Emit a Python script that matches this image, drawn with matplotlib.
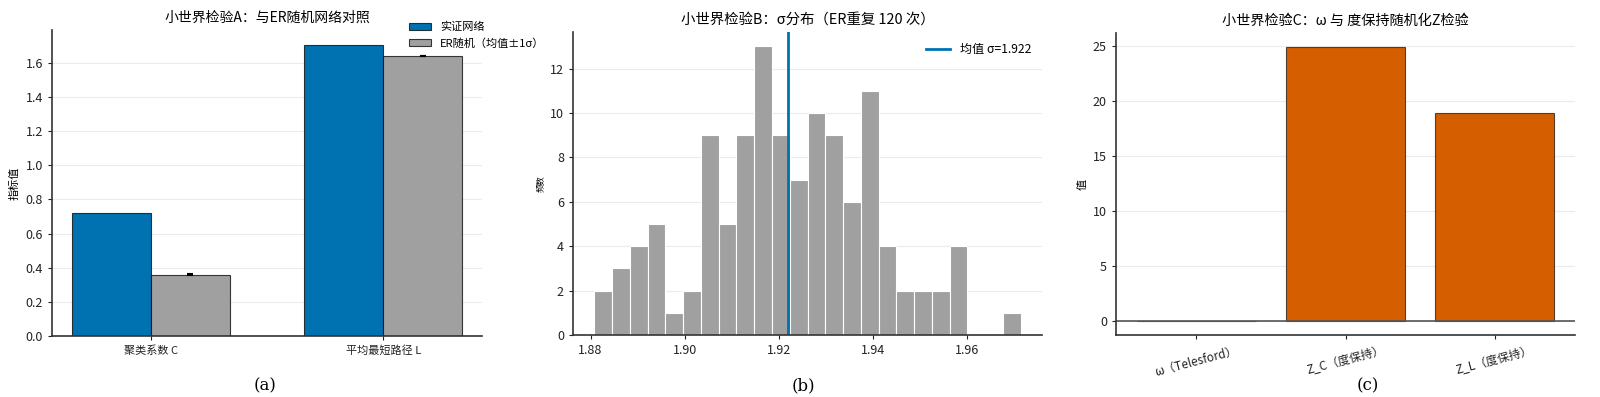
import numpy as np
import matplotlib
matplotlib.use("Agg")
import matplotlib.pyplot as plt

plt.rcParams['font.family'] = ['Noto Sans CJK SC', 'DejaVu Sans']
plt.rcParams['axes.unicode_minus'] = False

# ---- Panel A data ----
metrics_a = ["聚类系数 C", "平均最短路径 L"]
empirical_vals = [0.718, 1.706]
er_mean_vals = [0.360, 1.638]
er_std_vals = [0.0025, 0.0008]

# ---- Panel B data ----
sigma_counts = [2, 3, 4, 5, 1, 2, 9, 5, 9, 13, 9, 7, 10, 9, 6, 11, 4, 2, 2, 2, 4, 0, 0, 1]
sigma_lo = 1.8808
sigma_hi = 1.9713
sigma_mean = 1.922

# ---- Panel C data ----
metrics_c = ["ω（Telesford）", "Z_C（度保持）", "Z_L（度保持）"]
values_c = [-0.04, 24.95, 18.9]

BLUE = "#0072B2"
GRAY = "#a0a0a0"
ORANGE = "#D55E00"
SPINE = "#333333"

W, H = 1600, 397
fig = plt.figure(figsize=(16, 3.97), dpi=100)

def rect(l, r, t, b):
    return [l / W, (H - b) / H, (r - l) / W, (b - t) / H]

axA = fig.add_axes(rect(52, 482, 30, 336))
axB = fig.add_axes(rect(573, 1042, 32, 335))
axC = fig.add_axes(rect(1116, 1575, 33, 335))

def style(ax):
    ax.spines['top'].set_visible(False)
    ax.spines['right'].set_visible(False)
    for s in ('left', 'bottom'):
        ax.spines[s].set_color(SPINE)
        ax.spines[s].set_linewidth(1.2)
    ax.grid(axis='y', color='#ececec', linewidth=0.8)
    ax.set_axisbelow(True)
    ax.tick_params(labelsize=9, colors='#222222', length=3)

# Panel A
x = np.arange(len(metrics_a))
bw = 0.34
axA.bar(x - bw / 2, empirical_vals, bw, color=BLUE, edgecolor=(0, 0, 0, 0.75),
        linewidth=0.8, label="实证网络")
axA.bar(x + bw / 2, er_mean_vals, bw, color=GRAY, edgecolor=(0, 0, 0, 0.75),
        linewidth=0.8, yerr=er_std_vals, capsize=2.5,
        error_kw=dict(elinewidth=1, ecolor='black', capthick=1.5),
        label="ER随机（均值±1σ）")
style(axA)
axA.set_xticks(x)
axA.set_xticklabels(metrics_a, fontsize=8)
axA.set_ylabel("指标值", fontsize=8)
axA.set_title("小世界检验A：与ER随机网络对照", fontsize=10)
axA.legend(loc='upper right', bbox_to_anchor=(1.16, 1.048), frameon=False,
           fontsize=8, handlelength=2.0, borderaxespad=0.2)

# Panel B
edges = np.linspace(sigma_lo, sigma_hi, len(sigma_counts) + 1)
axB.bar(edges[:-1], sigma_counts, width=np.diff(edges), align='edge',
        color=GRAY, edgecolor='white', linewidth=0.8)
axB.axvline(sigma_mean, color=BLUE, linewidth=2, label=f"均值 σ={sigma_mean:.3f}")
style(axB)
axB.set_ylabel("频数", fontsize=6)
axB.set_title("小世界检验B：σ分布（ER重复 120 次）", fontsize=10.4)
axB.set_xticks([1.88, 1.90, 1.92, 1.94, 1.96])
axB.legend(loc='upper right', frameon=False, fontsize=8.7)

# Panel C
xc = np.arange(len(metrics_c))
axC.bar(xc, values_c, 0.8, color=ORANGE, edgecolor=(0, 0, 0, 0.65), linewidth=0.8)
axC.axhline(0, color='#555555', linewidth=1.2)
style(axC)
axC.set_xticks(xc)
axC.set_xticklabels(metrics_c, rotation=15, fontsize=8.5)
axC.set_ylabel("值", fontsize=8)
axC.set_title("小世界检验C：ω 与 度保持随机化Z检验", fontsize=10.2)

# Captions
for xp, lab in [(265, "(a)"), (803, "(b)"), (1368, "(c)")]:
    fig.text(xp / W, (H - 386) / H, lab, ha='center', va='center',
             fontsize=12, family='DejaVu Serif')

fig.savefig("out.png", dpi=100)
